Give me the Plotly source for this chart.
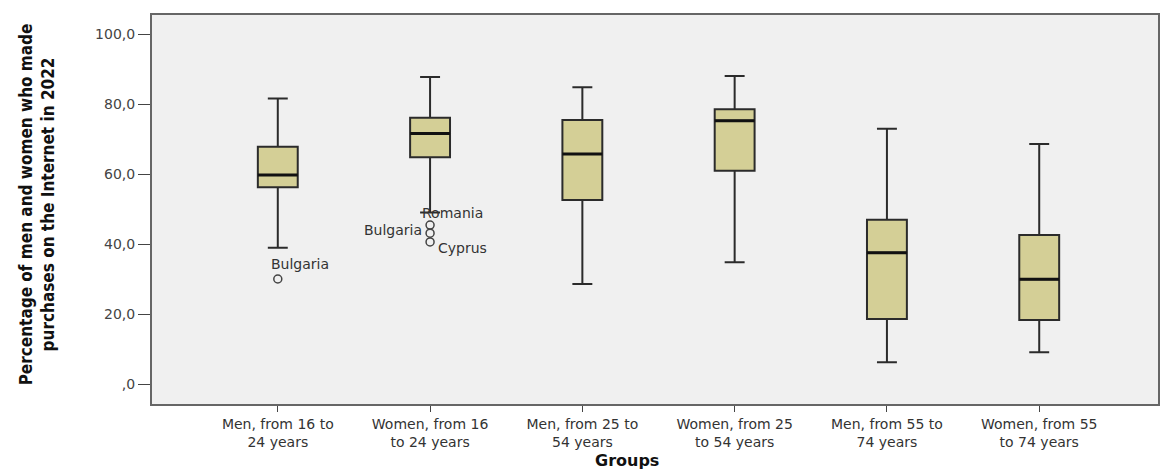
import plotly.graph_objects as go

groups = ["Men, from 16 to<br>24 years", "Women, from 16<br>to 24 years",
          "Men, from 25 to<br>54 years", "Women, from 25<br>to 54 years",
          "Men, from 55 to<br>74 years", "Women, from 55<br>to 74 years"]
lower_whisker = [38.9, 49.0, 28.6, 34.8, 6.2, 9.1]
q1 = [56.2, 64.8, 52.6, 60.9, 18.6, 18.3]
median = [59.7, 71.6, 65.7, 75.2, 37.5, 29.9]
q3 = [67.8, 76.1, 75.4, 78.5, 46.9, 42.6]
upper_whisker = [81.6, 87.7, 84.8, 88.0, 72.9, 68.6]

outlier_group = [0, 1, 1, 1]
outlier_value = [30.0, 45.4, 43.1, 40.6]
outlier_label = ["Bulgaria", "Romania", "Bulgaria", "Cyprus"]

y_ticks = [0, 20, 40, 60, 80, 100]
y_tick_text = [",0", "20,0", "40,0", "60,0", "80,0", "100,0"]

pos = list(range(len(groups)))
box_w = 0.262

fig = go.Figure()
fig.add_trace(go.Box(
    x=pos, q1=q1, median=median, q3=q3,
    lowerfence=lower_whisker, upperfence=upper_whisker,
    width=box_w, whiskerwidth=0.5,
    fillcolor="#D4CF96",
    line=dict(color="#2b2b2b", width=2),
    boxpoints=False, showlegend=False, hoverinfo="skip",
))
fig.add_trace(go.Scatter(
    x=outlier_group, y=outlier_value, mode="markers",
    marker=dict(symbol="circle-open", size=8, color="#444", line=dict(width=1.5)),
    showlegend=False, hoverinfo="skip",
))

# thicker median lines
for i, m in zip(pos, median):
    fig.add_shape(type="line", xref="x", yref="y",
                  x0=i - box_w / 2, x1=i + box_w / 2, y0=m, y1=m,
                  line=dict(color="#111", width=3))

label_font = dict(family="DejaVu Sans, Arial", size=14, color="#333")
offsets = [("center", 22, 15), ("center", 22, 12), ("right", -6, 3), ("left", 6, -6)]
for g, v, t, (anc, xs, ys) in zip(outlier_group, outlier_value, outlier_label, offsets):
    fig.add_annotation(x=g, y=v, xref="x", yref="y", text=t, showarrow=False,
                       xanchor=anc, yanchor="middle", xshift=xs, yshift=ys,
                       font=label_font)

fig.add_annotation(text="Percentage of men and women who made<br>purchases on the Internet in 2022",
                   xref="paper", yref="paper", x=-0.114, y=0.514, textangle=-90,
                   showarrow=False, xanchor="center", yanchor="middle",
                   font=dict(family="Liberation Sans Narrow, Arial Narrow, DejaVu Sans Condensed",
                             size=17, color="#111", weight="bold"))
fig.add_annotation(text="<b>Groups</b>", xref="paper", yref="paper", x=0.472, y=-0.1465,
                   showarrow=False, xanchor="center", yanchor="middle",
                   font=dict(family="DejaVu Sans, Arial", size=16, color="#111"))

fig.update_xaxes(range=[-0.826, 5.78], tickvals=pos, ticktext=groups,
                 showline=True, linecolor="#666", linewidth=2, mirror=True,
                 ticks="outside", ticklen=6, tickcolor="#444", showgrid=False,
                 zeroline=False, tickfont=dict(family="DejaVu Sans, Arial", size=14, color="#333"))
fig.update_yaxes(range=[-5.71, 105.43], tickvals=y_ticks, ticktext=y_tick_text,
                 showline=True, linecolor="#666", linewidth=2, mirror=True,
                 ticks="outside", ticklen=12, tickcolor="#444", showgrid=False,
                 zeroline=False, tickfont=dict(family="DejaVu Sans, Arial", size=14, color="#444"))

fig.update_layout(width=1161, height=471,
                  margin=dict(l=152, r=1, t=15, b=67),
                  plot_bgcolor="#F0F0F0", paper_bgcolor="white")

fig.write_html("out.html", config={"displayModeBar": False},
               post_script="document.body.style.margin='0';document.body.style.overflow='hidden';")
